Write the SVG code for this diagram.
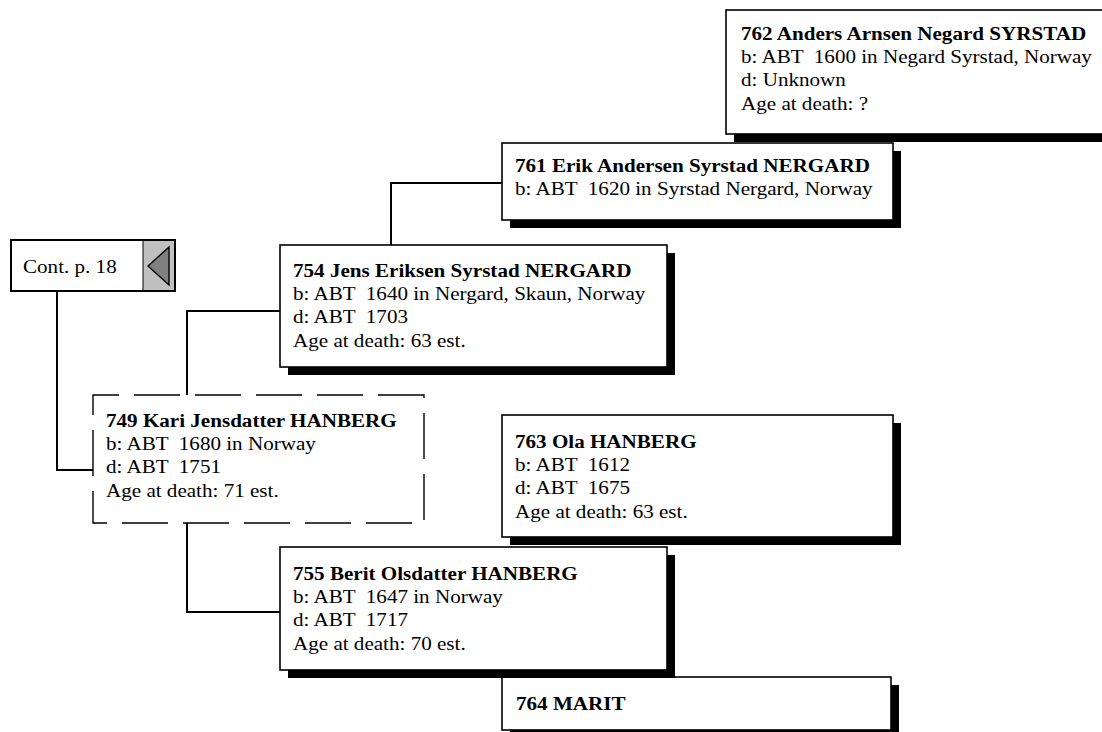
<svg xmlns="http://www.w3.org/2000/svg" width="1102" height="732" viewBox="0 0 1102 732">
<style>
.box{fill:#fff;stroke:#000;stroke-width:1.6}
.sh{fill:#000}
.dash{fill:#fff;stroke:#000;stroke-width:1.4;stroke-dasharray:46 15}
.con{fill:none;stroke:#000;stroke-width:2}
text{font-family:"Liberation Serif","Times New Roman",serif;font-size:19px;fill:#000;white-space:pre}
.b{font-weight:bold}
</style>
<rect width="1102" height="732" fill="#fff"/>
<g id="connectors">
<path class="con" d="M57,291 V470 H93"/>
<path class="con" d="M187,395 V311 H280"/>
<path class="con" d="M391,245 V183 H502"/>
<path class="con" d="M187,523 V612 H280"/>
</g>
<g id="n762">
<rect class="sh" x="734" y="18" width="380" height="124"/>
<rect class="box" x="726" y="10" width="380" height="124"/>
<text xml:space="preserve" transform="translate(741,0) scale(1.11,1)"><tspan class="b" x="0" y="40">762 Anders Arnsen Negard SYRSTAD</tspan><tspan x="0" y="63.2">b: ABT  1600 in Negard Syrstad, Norway</tspan><tspan x="0" y="86.4">d: Unknown</tspan><tspan x="0" y="109.6">Age at death: ?</tspan></text>
</g>
<g id="n761">
<rect class="sh" x="510" y="151" width="391" height="77"/>
<rect class="box" x="502" y="143" width="391" height="77"/>
<text xml:space="preserve" transform="translate(515,0) scale(1.11,1)"><tspan class="b" x="0" y="172">761 Erik Andersen Syrstad NERGARD</tspan><tspan x="0" y="195.2">b: ABT  1620 in Syrstad Nergard, Norway</tspan></text>
</g>
<g id="cont">
<rect x="11" y="240" width="164" height="51" fill="#fff"/>
<rect x="143" y="240" width="32" height="51" fill="#c0c0c0"/>
<polygon points="148,266 169,247 169,285" fill="#808080" stroke="#000" stroke-width="1.4"/>
<line x1="143" y1="240" x2="143" y2="291" stroke="#000" stroke-width="1"/>
<rect x="11" y="240" width="164" height="51" fill="none" stroke="#000" stroke-width="2"/>
<text transform="translate(23,0) scale(1.11,1)" x="0" y="273">Cont. p. 18</text>
</g>
<g id="n754">
<rect class="sh" x="288" y="253" width="387" height="122"/>
<rect class="box" x="280" y="245" width="387" height="122"/>
<text xml:space="preserve" transform="translate(293,0) scale(1.11,1)"><tspan class="b" x="0" y="277">754 Jens Eriksen Syrstad NERGARD</tspan><tspan x="0" y="300.2">b: ABT  1640 in Nergard, Skaun, Norway</tspan><tspan x="0" y="323.4">d: ABT  1703</tspan><tspan x="0" y="346.6">Age at death: 63 est.</tspan></text>
</g>
<g id="n749">
<path class="dash" d="M424,395 H93 V523 H424 Z"/>
<text xml:space="preserve" transform="translate(106,0) scale(1.11,1)"><tspan class="b" x="0" y="427">749 Kari Jensdatter HANBERG</tspan><tspan x="0" y="450.2">b: ABT  1680 in Norway</tspan><tspan x="0" y="473.4">d: ABT  1751</tspan><tspan x="0" y="496.6">Age at death: 71 est.</tspan></text>
</g>
<g id="n763">
<rect class="sh" x="510" y="423" width="391" height="122"/>
<rect class="box" x="502" y="415" width="391" height="122"/>
<text xml:space="preserve" transform="translate(515,0) scale(1.11,1)"><tspan class="b" x="0" y="448">763 Ola HANBERG</tspan><tspan x="0" y="471.2">b: ABT  1612</tspan><tspan x="0" y="494.4">d: ABT  1675</tspan><tspan x="0" y="517.6">Age at death: 63 est.</tspan></text>
</g>
<g id="n764">
<rect class="sh" x="510" y="685" width="389" height="53"/>
<rect class="box" x="502" y="677" width="389" height="53"/>
<text transform="translate(516,0) scale(1.11,1)"><tspan class="b" x="0" y="710">764 MARIT</tspan></text>
</g>
<g id="n755">
<rect class="sh" x="288" y="555" width="387" height="123"/>
<rect class="box" x="280" y="547" width="387" height="123"/>
<text xml:space="preserve" transform="translate(293,0) scale(1.11,1)"><tspan class="b" x="0" y="580">755 Berit Olsdatter HANBERG</tspan><tspan x="0" y="603.2">b: ABT  1647 in Norway</tspan><tspan x="0" y="626.4">d: ABT  1717</tspan><tspan x="0" y="649.6">Age at death: 70 est.</tspan></text>
</g>
</svg>
